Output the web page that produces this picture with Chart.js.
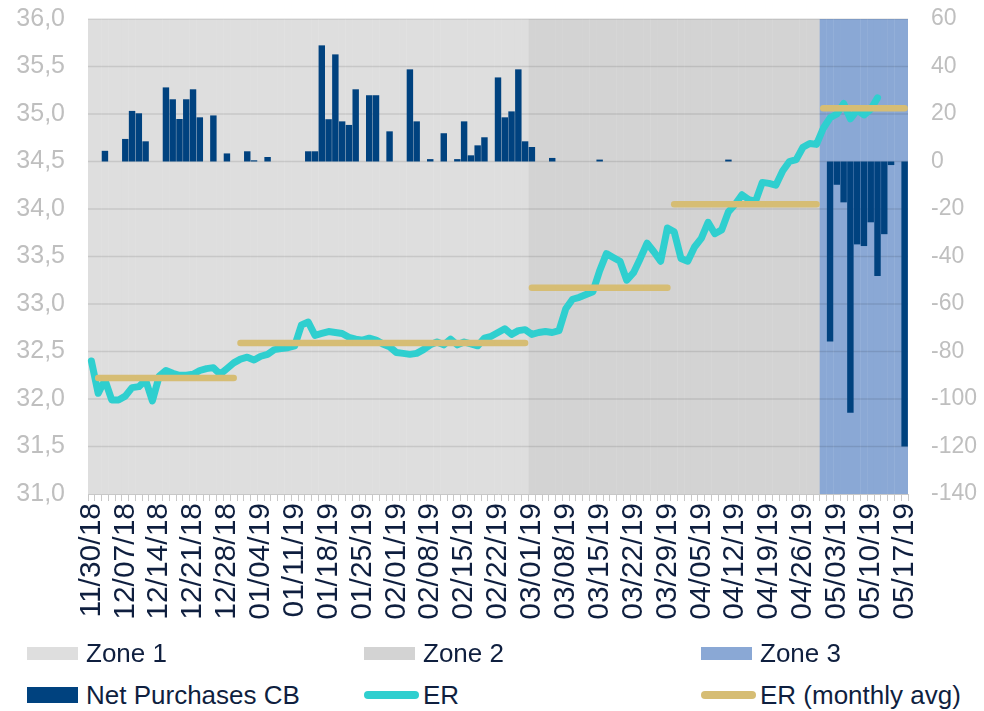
<!DOCTYPE html>
<html>
<head>
<meta charset="utf-8">
<script src="https://cdn.jsdelivr.net/npm/chart.js@4.4.1/dist/chart.umd.min.js"></script>
<style>
  body { margin: 0; background: #fff; font-family: "Liberation Sans", Arial, sans-serif; }
  #wrap { position: relative; width: 984px; height: 711px; overflow: hidden; }
  #box { position: absolute; left: 0; top: 0; width: 984px; height: 640px; }
  #legend div { position: absolute; }
  #legend .txt { font-size: 26px; line-height: 30px; color: #0f1f3f; white-space: nowrap; }
</style>
</head>
<body>
<div id="wrap">
  <div id="box"><canvas id="chart"></canvas></div>
  <div id="legend"></div>
</div>
<script>
// business days 11/30/18 .. 05/17/19
const firstDay = new Date(Date.UTC(2018, 10, 30));
const lastDay = new Date(Date.UTC(2019, 4, 17));

function fmt(d) {
    const mm = String(d.getUTCMonth() + 1).padStart(2, "0");
    const dd = String(d.getUTCDate()).padStart(2, "0");
    const yy = String(d.getUTCFullYear()).slice(2);
    return mm + "/" + dd + "/" + yy;
}

let days = [];
for (let d = new Date(firstDay); d <= lastDay; d.setUTCDate(d.getUTCDate() + 1)) {
    const wd = d.getUTCDay();
    if (wd === 0 || wd === 6) continue;
    days.push(fmt(d));
}

// exchange rate (left axis)
const er = [
    32.40, 32.06, 32.20, 31.99, 31.99, 32.03, 32.12, 32.13, 32.20, 31.98,
    32.24, 32.30, 32.27, 32.25, 32.25, 32.26, 32.30, 32.32, 32.33, 32.26,
    32.32, 32.38, 32.42, 32.44, 32.41, 32.45, 32.47, 32.52, 32.53, 32.54,
    32.56, 32.78, 32.81, 32.67, 32.69, 32.71, 32.70, 32.69, 32.65, 32.63,
    32.62, 32.64, 32.62, 32.58, 32.55, 32.49, 32.48, 32.47, 32.48, 32.52,
    32.57, 32.60, 32.57, 32.63, 32.57, 32.60, 32.58, 32.56, 32.64, 32.66,
    32.70, 32.74, 32.68, 32.72, 32.73, 32.68, 32.70, 32.71, 32.70, 32.72,
    32.95, 33.05, 33.07, 33.10, 33.13, 33.35, 33.53, 33.49, 33.45, 33.25,
    33.33, 33.48, 33.64, 33.55, 33.45, 33.80, 33.76, 33.48, 33.45, 33.60,
    33.69, 33.86, 33.74, 33.78, 33.97, 34.05, 34.15, 34.10, 34.08, 34.28,
    34.27, 34.25, 34.40, 34.50, 34.52, 34.65, 34.69, 34.68, 34.85, 34.96,
    35.00, 35.11, 34.95, 35.04, 34.99, 35.05, 35.17, null, null, null,
    null
];

// net purchases of the central bank (right axis)
const purchases = [
    0, 0, 4.5, 0, 0, 9.5, 21.3, 20.3, 8.5, 0,
    0, 31.2, 26.2, 17.9, 26.2, 30.4, 18.6, 0, 19.4, 0,
    3.4, 0, 0, 4.3, 0.5, 0, 1.9, 0, 0, 0,
    0, 0, 4.3, 4.3, 48.9, 17.8, 45.1, 16.9, 15.4, 30.4,
    0, 27.9, 27.9, 0, 12.7, 0, 0, 38.8, 16.9, 0,
    1, 0, 11.9, 0, 1.0, 16.9, 2.6, 6.8, 10.2, 0,
    35.4, 18.6, 21.1, 38.8, 8.5, 6.1, 0, 0, 1.5, 0,
    0, 0, 0, 0, 0, 0.8, 0, 0, 0, 0,
    0, 0, 0, 0, 0, 0, 0, 0, 0, 0,
    0, 0, 0, 0, 0.8, 0, 0, 0, 0, 0,
    0, 0, 0, 0, 0, 0, 0, 0, 0, -75.8,
    -9.8, -17.2, -105.8, -34.9, -35.6, -25.6, -48.2, -30.6, -1.5, 0,
    -120
];

// monthly average of ER
const months = ["12/18", "01/19", "02/19", "03/19", "04/19", "05/19"];
const monthAvg = [32.22, 32.59, 32.59, 33.17, 34.05, 35.06];

// zones start dates
const zoneNames = ["Zone 1", "Zone 2", "Zone 3"];
const zoneStart = ["11/30/18", "03/01/19", "05/01/19"];

const ZONE_COLORS = ["#dedede", "#d3d3d3", "#8aa8d5"];
const NAVY = "#00427f";
const TEAL = "#2fcfcf";
const GOLD = "#d6bd74";
const TEXT = "#0f1f3f";

function monthKey(label) {
    return label.slice(0, 2) + "/" + label.slice(6, 8);
}

let avgData = days.map(function (d) {
    const k = months.indexOf(monthKey(d));
    return k < 0 ? null : monthAvg[k];
});

let zoneStartIdx = zoneStart.map(function (z) { return days.indexOf(z); });
function zoneOf(i) {
    let z = 0;
    zoneStartIdx.forEach(function (s, k) { if (i >= s) z = k; });
    return z;
}

let datasets = [];
zoneNames.forEach(function (name, k) {
    datasets.push({
        type: "bar",
        label: name,
        yAxisID: "zone",
        data: days.map(function (d, i) { return zoneOf(i) === k ? 1 : null; }),
        backgroundColor: ZONE_COLORS[k],
        borderWidth: 0,
        barPercentage: 1.06,
        categoryPercentage: 1,
        grouped: false,
        order: 5 - k
    });
});

const PURCHASE_INDEX = datasets.length;
datasets.push({
    type: "bar",
    label: "Net Purchases CB",
    yAxisID: "y1",
    data: purchases,
    backgroundColor: NAVY,
    borderWidth: 0,
    barPercentage: 0.95,
    categoryPercentage: 1,
    grouped: false,
    order: 2
});

datasets.push({
    type: "line",
    label: "ER",
    yAxisID: "y",
    data: er,
    borderColor: TEAL,
    borderWidth: 7,
    pointRadius: 0,
    tension: 0,
    borderJoinStyle: "round",
    borderCapStyle: "round",
    order: 1
});

datasets.push({
    type: "line",
    label: "ER (monthly avg)",
    yAxisID: "y",
    data: avgData,
    borderColor: GOLD,
    borderWidth: 6.5,
    pointRadius: 0,
    tension: 0,
    borderCapStyle: "round",
    segment: {
        borderColor: function (ctx) {
            return ctx.p0.parsed.y !== ctx.p1.parsed.y ? "rgba(0,0,0,0)" : undefined;
        }
    },
    order: 0
});

// horizontal grid drawn over the zone backgrounds, under the bars
const gridOverZones = {
    id: "gridOverZones",
    beforeDatasetDraw(chart, args) {
        if (args.index !== PURCHASE_INDEX) return;
        const y = chart.scales.y;
        const area = chart.chartArea;
        const ctx = chart.ctx;
        ctx.save();
        ctx.strokeStyle = "rgba(0,0,0,0.1)";
        ctx.lineWidth = 1.5;
        y.ticks.forEach(function (t) {
            if (t.value <= y.min) return;
            const py = y.getPixelForValue(t.value);
            ctx.beginPath();
            ctx.moveTo(area.left, py);
            ctx.lineTo(area.right, py);
            ctx.stroke();
        });
        ctx.restore();
    }
};

Chart.defaults.font.family = '"Liberation Sans", Arial, sans-serif';

const CHART = document.getElementById("chart").getContext("2d");
let chart = new Chart(CHART, {
    type: "bar",
    data: { labels: days, datasets: datasets },
    plugins: [gridOverZones],
    options: {
        responsive: true,
        maintainAspectRatio: false,
        animation: false,
        layout: { padding: { top: 19, left: 0, right: 0, bottom: 0 } },
        plugins: { legend: { display: false }, tooltip: { enabled: false } },
        scales: {
            x: {
                offset: true,
                grid: { display: true, drawOnChartArea: false, drawTicks: true, tickLength: 7, color: "#c8c8c8", offset: true },
                border: { display: true, color: "#c8c8c8" },
                ticks: {
                    autoSkip: false,
                    minRotation: 90,
                    maxRotation: 90,
                    padding: 2,
                    color: TEXT,
                    font: { size: 30 },
                    callback: function (v, i) { return i % 5 === 0 ? days[i] : ""; }
                },
                afterFit: function (s) { s.height = 146; }
            },
            y: {
                position: "left",
                min: 31,
                max: 36,
                grid: { display: false, drawTicks: false },
                border: { display: false },
                ticks: {
                    stepSize: 0.5,
                    padding: 23,
                    color: "#bfbfbf",
                    font: { size: 25 },
                    callback: function (v) { return v.toFixed(1).replace(".", ","); }
                },
                afterFit: function (s) { s.width = 88; s.paddingTop = 0; s.paddingBottom = 0; }
            },
            y1: {
                position: "right",
                min: -140,
                max: 60,
                grid: { display: false, drawTicks: false },
                border: { display: false },
                ticks: { stepSize: 20, padding: 23, color: "#bfbfbf", font: { size: 23 } },
                afterFit: function (s) { s.width = 76; s.paddingTop = 0; s.paddingBottom = 0; }
            },
            zone: { display: false, min: 0, max: 1 }
        }
    }
});

// legend
const legendItems = [
    { label: "Zone 1", kind: "box", color: ZONE_COLORS[0] },
    { label: "Zone 2", kind: "box", color: ZONE_COLORS[1] },
    { label: "Zone 3", kind: "box", color: ZONE_COLORS[2] },
    { label: "Net Purchases CB", kind: "bar", color: NAVY },
    { label: "ER", kind: "line", color: TEAL },
    { label: "ER (monthly avg)", kind: "line", color: GOLD }
];
const colX = [27, 364, 701];
const rowY = [653, 695];
const legend = document.getElementById("legend");
legendItems.forEach(function (it, n) {
    const x = colX[n % 3];
    const cy = rowY[Math.floor(n / 3)];
    const sw = document.createElement("div");
    sw.style.left = x + "px";
    sw.style.width = (it.kind === "line" ? 55 : 51) + "px";
    const h = it.kind === "box" ? 13 : (it.kind === "bar" ? 16 : 8);
    sw.style.height = h + "px";
    sw.style.top = (cy - h / 2) + "px";
    sw.style.background = it.color;
    if (it.kind === "line") sw.style.borderRadius = "4px";
    legend.appendChild(sw);
    const tx = document.createElement("div");
    tx.className = "txt";
    tx.textContent = it.label;
    tx.style.left = (x + 59) + "px";
    tx.style.top = (cy - 15) + "px";
    legend.appendChild(tx);
});
</script>
</body>
</html>
